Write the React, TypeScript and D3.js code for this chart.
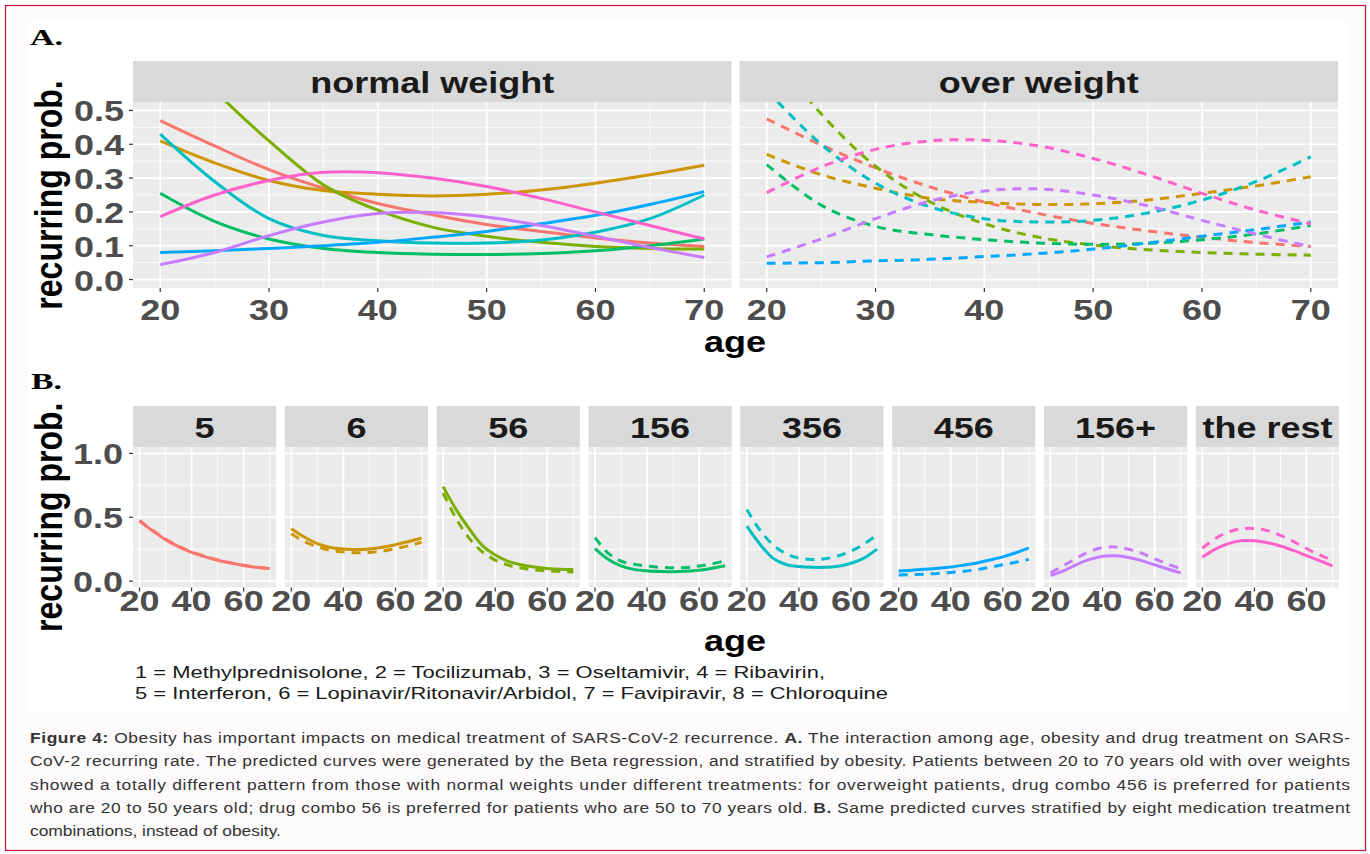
import React from 'react';
import * as d3 from 'd3';

// drug combos (facets of panel B) and ggplot hue colours
const combos = ['5', '6', '56', '156', '356', '456', '156+', 'the rest'];
const comboColors = ['#F8766D', '#CD9600', '#7CAE00', '#00BE67', '#00BFC4', '#00A9FF', '#C77CFF', '#FF61CC'];
const weightGroups = ['normal weight', 'over weight'];

const ages = [20, 25, 30, 35, 40, 45, 50, 55, 60, 65, 70];

// predicted recurring prob., normal weight (solid), one row per combo
const normalProb = [
  [0.47, 0.395, 0.325, 0.27, 0.225, 0.192, 0.163, 0.142, 0.123, 0.108, 0.098],
  [0.41, 0.345, 0.293, 0.263, 0.252, 0.247, 0.252, 0.265, 0.285, 0.31, 0.338],
  [0.74, 0.56, 0.41, 0.28, 0.205, 0.155, 0.128, 0.11, 0.098, 0.092, 0.09],
  [0.255, 0.172, 0.12, 0.092, 0.08, 0.075, 0.074, 0.077, 0.085, 0.1, 0.12],
  [0.43, 0.29, 0.18, 0.13, 0.115, 0.108, 0.108, 0.117, 0.14, 0.18, 0.25],
  [0.08, 0.085, 0.092, 0.1, 0.11, 0.125, 0.142, 0.165, 0.19, 0.222, 0.26],
  [0.044, 0.08, 0.13, 0.17, 0.195, 0.198, 0.185, 0.16, 0.128, 0.095, 0.065],
  [0.186, 0.25, 0.293, 0.317, 0.316, 0.3, 0.275, 0.24, 0.2, 0.16, 0.12],
];

// over weight (dashed)
const overProb = [
  [0.475, 0.398, 0.33, 0.274, 0.229, 0.195, 0.166, 0.144, 0.125, 0.109, 0.098],
  [0.37, 0.31, 0.27, 0.24, 0.228, 0.222, 0.224, 0.235, 0.255, 0.277, 0.304],
  [0.69, 0.49, 0.335, 0.23, 0.165, 0.125, 0.102, 0.088, 0.08, 0.075, 0.072],
  [0.34, 0.22, 0.157, 0.133, 0.118, 0.108, 0.104, 0.107, 0.118, 0.135, 0.16],
  [0.56, 0.4, 0.285, 0.215, 0.18, 0.17, 0.175, 0.197, 0.235, 0.29, 0.363],
  [0.048, 0.05, 0.055, 0.06, 0.068, 0.077, 0.09, 0.108, 0.128, 0.148, 0.17],
  [0.067, 0.12, 0.18, 0.232, 0.262, 0.268, 0.25, 0.218, 0.175, 0.134, 0.097],
  [0.257, 0.333, 0.385, 0.41, 0.412, 0.395, 0.358, 0.31, 0.255, 0.205, 0.165],
];

const ticksA_y = [0, 0.1, 0.2, 0.3, 0.4, 0.5];
const ticksA_x = [20, 30, 40, 50, 60, 70];
const ticksB_y = [0, 0.5, 1.0];
const ticksB_x = [20, 40, 60];

const legendLines = [
  '1 = Methylprednisolone, 2 = Tocilizumab, 3 = Oseltamivir, 4 = Ribavirin,',
  '5 = Interferon, 6 = Lopinavir/Ritonavir/Arbidol, 7 = Favipiravir, 8 = Chloroquine',
];

const SANS = "'Liberation Sans', Arial, Helvetica, sans-serif";
const SERIF = "'Liberation Serif', 'Times New Roman', serif";
const SX = 1.2; // the figure is a bit stretched sideways

const T = ({ x, y, size = 30, anchor = 'middle', fill = '#4d4d4d', weight = 'bold', children }: any) => (
  <text transform={`translate(${x},${y}) scale(${SX},1)`} fontSize={size} fontWeight={weight}
    textAnchor={anchor} fill={fill} fontFamily={SANS}>{children}</text>
);

const line = d3.line<[number, number]>().curve(d3.curveCatmullRom.alpha(0.5));

function Facet({ id, left, width, top, bottom, stripTop, label, yDomain, xMajor, xMinor, yMajor, yMinor,
  curves, showY, yTicks }: any) {
  const x = d3.scaleLinear().domain([17.5, 72.5]).range([left, left + width]);
  const y = d3.scaleLinear().domain(yDomain).range([bottom, top]);
  return (
    <g>
      <rect x={left} y={stripTop} width={width} height={top - stripTop} fill="#d9d9d9" />
      <T x={left + width / 2} y={(stripTop + top) / 2 + 11} fill="#1a1a1a">{label}</T>
      <rect x={left} y={top} width={width} height={bottom - top} fill="#ebebeb" />
      <clipPath id={id}><rect x={left} y={top} width={width} height={bottom - top} /></clipPath>
      {yMinor.map((v: number) => <line key={'ym' + v} x1={left} x2={left + width} y1={y(v)} y2={y(v)} stroke="#fff" strokeWidth={0.8} />)}
      {xMinor.map((v: number) => <line key={'xm' + v} y1={top} y2={bottom} x1={x(v)} x2={x(v)} stroke="#fff" strokeWidth={0.8} />)}
      {yMajor.map((v: number) => <line key={'yM' + v} x1={left} x2={left + width} y1={y(v)} y2={y(v)} stroke="#fff" strokeWidth={1.7} />)}
      {xMajor.map((v: number) => <line key={'xM' + v} y1={top} y2={bottom} x1={x(v)} x2={x(v)} stroke="#fff" strokeWidth={1.7} />)}
      <g clipPath={`url(#${id})`}>
        {curves.map((c: any, i: number) => (
          <path key={i} d={line(ages.map((a, j) => [x(a), y(c.values[j])]) as [number, number][]) || ''}
            fill="none" stroke={c.color} strokeWidth={3} strokeDasharray={c.dashed ? '9,7' : undefined} />
        ))}
      </g>
      {xMajor.map((v: number) => <line key={'xt' + v} x1={x(v)} x2={x(v)} y1={bottom} y2={bottom + 4} stroke="#333" strokeWidth={1.2} />)}
      {showY && yTicks.map((v: number) => (
        <line key={'yt' + v} x1={left - 4} x2={left} y1={y(v)} y2={y(v)} stroke="#333" strokeWidth={1.2} />
      ))}
    </g>
  );
}

export default function App() {
  // panel A geometry
  const aBand = d3.scaleBand<string>().domain(weightGroups).range([133, 1338]).paddingInner(0.0133);
  const aTop = 102, aBottom = 288, aStrip = 61;
  const yA = d3.scaleLinear().domain([-0.025, 0.525]).range([aBottom, aTop]);
  // panel B geometry
  const bBand = d3.scaleBand<string>().domain(combos).range([133, 1339]).paddingInner(0.057);
  const bTop = 447, bBottom = 587.5, bStrip = 406;
  const yB = d3.scaleLinear().domain([-0.05, 1.05]).range([bBottom, bTop]);

  const aMinorX = [25, 35, 45, 55, 65];
  const aMinorY = [0.05, 0.15, 0.25, 0.35, 0.45];

  const captionLines = [
    [['Figure 4:', true], [' Obesity has important impacts on medical treatment of SARS-CoV-2 recurrence. ', false], ['A.', true], [' The interaction among age, obesity and drug treatment on SARS-', false]],
    [['CoV-2 recurring rate. The predicted curves were generated by the Beta regression, and stratified by obesity. Patients between 20 to 70 years old with over weights', false]],
    [['showed a totally different pattern from those with normal weights under different treatments: for overweight patients, drug combo 456 is preferred for patients', false]],
    [['who are 20 to 50 years old; drug combo 56 is preferred for patients who are 50 to 70 years old. ', false], ['B.', true], [' Same predicted curves stratified by eight medication treatment', false]],
    [['combinations, instead of obesity.', false]],
  ];

  return (
    <svg width={1370} height={854} style={{ position: 'absolute', left: 0, top: 0 }}>
      <rect x={0} y={0} width={1370} height={854} fill="#fff" />
      <rect x={5.5} y={5.5} width={1360} height={845} fill="#fdfafb" stroke="#c0163c" strokeWidth={1.2} />
      <rect x={28} y={21} width={1319} height={692} fill="#fff" />

      {/* ---- A ---- */}
      <text x={30} y={44.5} fontFamily={SERIF} fontWeight="bold" fontSize={24}
        textLength={33} lengthAdjust="spacingAndGlyphs">A.</text>
      {weightGroups.map((g, gi) => (
        <Facet key={g} id={'clipA' + gi} left={aBand(g)} width={aBand.bandwidth()} top={aTop} bottom={aBottom}
          stripTop={aStrip} label={g} yDomain={yA.domain()} xMajor={ticksA_x} xMinor={aMinorX}
          yMajor={ticksA_y} yMinor={aMinorY} showY={gi === 0} yTicks={ticksA_y}
          curves={combos.map((c, i) => ({ color: comboColors[i], values: gi === 0 ? normalProb[i] : overProb[i], dashed: gi === 1 }))} />
      ))}
      {ticksA_y.map(v => <T key={'ay' + v} x={124} y={yA(v) + 11} anchor="end">{v.toFixed(1)}</T>)}
      {weightGroups.map(g => {
        const x = d3.scaleLinear().domain([17.5, 72.5]).range([aBand(g)!, aBand(g)! + aBand.bandwidth()]);
        return ticksA_x.map(v => <T key={g + v} x={x(v)} y={320}>{v}</T>);
      })}
      <T x={735} y={352} fill="#000">age</T>
      <text transform={`translate(62,${(aTop + aBottom) / 2}) rotate(-90) scale(1,${SX})`} textAnchor="middle"
        fontFamily={SANS} fontWeight="bold" fontSize={32} fill="#000">recurring prob.</text>

      {/* ---- B ---- */}
      <text x={31} y={388.5} fontFamily={SERIF} fontWeight="bold" fontSize={24}
        textLength={31} lengthAdjust="spacingAndGlyphs">B.</text>
      {combos.map((c, i) => (
        <Facet key={c} id={'clipB' + i} left={bBand(c)} width={bBand.bandwidth()} top={bTop} bottom={bBottom}
          stripTop={bStrip} label={c} yDomain={yB.domain()} xMajor={ticksB_x} xMinor={[30, 50, 70]}
          yMajor={ticksB_y} yMinor={[0.25, 0.75]} showY={i === 0} yTicks={ticksB_y}
          curves={[
            { color: comboColors[i], values: overProb[i], dashed: true },
            { color: comboColors[i], values: normalProb[i], dashed: false },
          ]} />
      ))}
      {ticksB_y.map(v => <T key={'by' + v} x={123} y={yB(v) + 11} anchor="end">{v.toFixed(1)}</T>)}
      {combos.map(c => {
        const x = d3.scaleLinear().domain([17.5, 72.5]).range([bBand(c)!, bBand(c)! + bBand.bandwidth()]);
        return ticksB_x.map(v => <T key={c + v} x={x(v)} y={611}>{v}</T>);
      })}
      <T x={735} y={651} fill="#000">age</T>
      <text transform={`translate(62,${(bTop + bBottom) / 2}) rotate(-90) scale(1,${SX})`} textAnchor="middle"
        fontFamily={SANS} fontWeight="bold" fontSize={32} fill="#000">recurring prob.</text>

      {legendLines.map((l, i) => (
        <text key={l} transform={`translate(135,${678 + i * 21}) scale(${SX},1)`} fontFamily={SANS} fontSize={17}
          fill="#1a1a1a" textLength={i === 0 ? 575 : 627.5} lengthAdjust="spacingAndGlyphs">{l}</text>
      ))}

      {/* ---- caption ---- */}
      {captionLines.map((ln, i) => (
        <text key={i} transform={`translate(30,${743 + i * 23.25}) scale(${SX},1)`} fontFamily={SANS} fontSize={14.5}
          fill="#333" textLength={i < 4 ? 1320 / SX : undefined} lengthAdjust="spacing">
          {ln.map((s: any, k: number) => <tspan key={k} fontWeight={s[1] ? 'bold' : 'normal'}>{s[0]}</tspan>)}
        </text>
      ))}
    </svg>
  );
}
